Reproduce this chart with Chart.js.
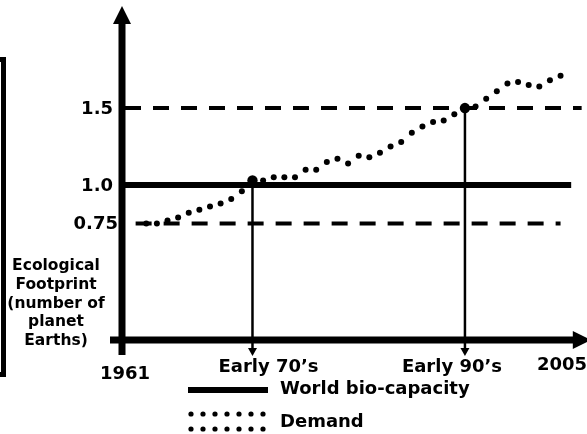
<!DOCTYPE html>
<html>
<head>
<meta charset="utf-8">
<script src="https://cdn.jsdelivr.net/npm/chart.js@4/dist/chart.umd.min.js"></script>
<style>
  html, body { margin: 0; padding: 0; background: #fff; }
  #wrap { width: 587px; height: 434px; }
</style>
</head>
<body>
<div id="wrap"><canvas id="footprintChart" width="587" height="434"></canvas></div>
<script>
// demand (one dot per year)
const demandYears = [
  1963, 1964, 1965, 1966, 1967, 1968, 1969, 1970, 1971, 1972,
  1973, 1974, 1975, 1976, 1977, 1978, 1979, 1980, 1981, 1982,
  1983, 1984, 1985, 1986, 1987, 1988, 1989, 1990, 1991, 1992,
  1993, 1994, 1995, 1996, 1997, 1998, 1999, 2000, 2001, 2002
];
const demand = [
  0.75, 0.75, 0.77, 0.79, 0.82, 0.84, 0.86, 0.88, 0.91, 0.96,
  1.03, 1.03, 1.05, 1.05, 1.05, 1.10, 1.10, 1.15, 1.17, 1.14,
  1.19, 1.18, 1.21, 1.25, 1.28, 1.34, 1.38, 1.41, 1.42, 1.46,
  1.50, 1.51, 1.56, 1.61, 1.66, 1.67, 1.65, 1.64, 1.68, 1.71
];

const bioCapacityYears = [1961, 2003];
const bioCapacity = [1.0, 1.0];

const dashLevels = [0.75, 1.5];
const dashSpans = [[1962, 2002], [1961, 2004]];

const markYears = [1973, 1993];
const markValues = [1.03, 1.5];
const markLabels = ["Early 70\u2019s", "Early 90\u2019s"];

const yTicks = [0.75, 1.0, 1.5];
const yTickLabels = ["0.75", "1.0", "1.5"];
const xEndYears = [1961, 2005];
const xEndLabels = ["1961", "2005"];

const yTitle = ["Ecological", "Footprint", "(number of", "planet", "Earths)"];
const legendLabels = ["World bio-capacity", "Demand"];

const ink = "#000";
const bold = (size) => `bold ${size}px 'DejaVu Sans', Verdana, sans-serif`;

const dashedSets = dashLevels.map((level, i) => ({
  type: "line",
  data: dashSpans[i].map((yr) => ({ x: yr, y: level })),
  borderColor: ink,
  borderWidth: 4,
  borderDash: [16, 12],
  borderCapStyle: "butt",
  pointRadius: 0,
  order: 4
}));

function arrowHead(ctx, tipX, tipY, dirX, dirY, len, half) {
  const bx = tipX - dirX * len;
  const by = tipY - dirY * len;
  ctx.beginPath();
  ctx.moveTo(tipX, tipY);
  ctx.lineTo(bx - dirY * half, by + dirX * half);
  ctx.lineTo(bx + dirY * half, by - dirX * half);
  ctx.closePath();
  ctx.fill();
}

const decorations = {
  id: "decorations",
  beforeDatasetsDraw(chart) {
    const { ctx, scales: { x, y } } = chart;
    const axisY = y.getPixelForValue(0);
    ctx.save();
    ctx.strokeStyle = ink;
    ctx.fillStyle = ink;
    ctx.lineWidth = 2.5;
    markYears.forEach((yr, i) => {
      const px = x.getPixelForValue(yr);
      ctx.beginPath();
      ctx.moveTo(px, y.getPixelForValue(markValues[i]));
      ctx.lineTo(px, axisY + 10);
      ctx.stroke();
      arrowHead(ctx, px, axisY + 17, 0, 1, 8, 4.5);
    });
    ctx.restore();
  },
  afterDatasetsDraw(chart) {
    const { ctx, chartArea, scales: { x, y } } = chart;
    const axisX = chartArea.left - 3;
    const axisY = y.getPixelForValue(0) + 1;
    ctx.save();
    ctx.strokeStyle = ink;
    ctx.fillStyle = ink;
    ctx.lineCap = "butt";

    // axes with arrows
    ctx.lineWidth = 7;
    ctx.beginPath();
    ctx.moveTo(axisX, axisY + 15);
    ctx.lineTo(axisX, chartArea.top + 14);
    ctx.moveTo(axisX - 12, axisY);
    ctx.lineTo(chartArea.right - 6, axisY);
    ctx.stroke();
    arrowHead(ctx, axisX, chartArea.top - 2, 0, -1, 18, 9);
    arrowHead(ctx, chartArea.right + 9, axisY, 1, 0, 18, 9);

    // y tick labels
    ctx.font = bold(18);
    ctx.textAlign = "right";
    ctx.textBaseline = "middle";
    yTicks.forEach((v, i) => {
      ctx.fillText(yTickLabels[i], axisX - (i === 0 ? 4 : 9), y.getPixelForValue(v) + 1);
    });

    // x labels
    ctx.textAlign = "center";
    xEndYears.forEach((yr, i) => {
      const w = ctx.measureText(xEndLabels[i]).width;
      const px = Math.min(x.getPixelForValue(yr), chart.width - w / 2);
      ctx.fillText(xEndLabels[i], Math.max(px, axisX), i === 0 ? axisY + 34 : axisY + 25);
    });
    markYears.forEach((yr, i) => {
      const shift = i === 0 ? 16 : -13;
      ctx.fillText(markLabels[i], x.getPixelForValue(yr) + shift, axisY + 27);
    });

    // y title
    ctx.font = bold(15.5);
    yTitle.forEach((line, i) => {
      ctx.fillText(line, 56, 266 + i * 18.8);
    });

    // frame on the left
    ctx.lineWidth = 5;
    ctx.strokeRect(-20, 59.5, 23.5, 315);

    // legend
    const lx = 188;
    const ly = axisY + 50;
    ctx.lineWidth = 6;
    ctx.beginPath();
    ctx.moveTo(lx, ly);
    ctx.lineTo(lx + 80, ly);
    ctx.stroke();
    for (let r = 0; r < 2; r++) {
      for (let k = 0; k < 7; k++) {
        ctx.beginPath();
        ctx.arc(lx + 3 + k * 12, ly + 24 + r * 15, 2.6, 0, Math.PI * 2);
        ctx.fill();
      }
    }
    ctx.font = bold(18);
    ctx.textAlign = "left";
    ctx.fillText(legendLabels[0], lx + 92, ly - 1);
    ctx.fillText(legendLabels[1], lx + 92, ly + 32);
    ctx.restore();
  }
};

new Chart(document.getElementById("footprintChart"), {
  type: "scatter",
  data: {
    datasets: [
      {
        label: "Crossings",
        data: markYears.map((yr, i) => ({ x: yr, y: markValues[i] })),
        pointRadius: 5.2,
        pointBackgroundColor: ink,
        pointBorderWidth: 0,
        order: 0
      },
      {
        label: legendLabels[1],
        data: demandYears.map((yr, i) => ({ x: yr, y: demand[i] })),
        pointRadius: 3,
        pointBackgroundColor: ink,
        pointBorderWidth: 0,
        order: 1
      },
      {
        type: "line",
        label: legendLabels[0],
        data: bioCapacityYears.map((yr, i) => ({ x: yr, y: bioCapacity[i] })),
        borderColor: ink,
        borderWidth: 6,
        pointRadius: 0,
        order: 3
      },
      ...dashedSets
    ]
  },
  options: {
    responsive: false,
    animation: false,
    layout: { padding: { left: 125, right: 0, top: 8, bottom: 95 } },
    plugins: { legend: { display: false }, tooltip: { enabled: false } },
    scales: {
      x: { type: "linear", min: 1961, max: 2004, display: false },
      y: { min: 0, max: 2.15, display: false }
    }
  },
  plugins: [decorations]
});
</script>
</body>
</html>
